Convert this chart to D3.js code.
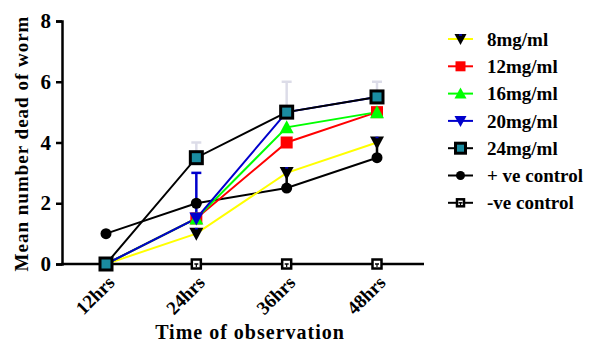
<!DOCTYPE html>
<html lang="en">
<head>
<meta charset="utf-8">
<title>Mean number dead of worm</title>
<script src="https://cdn.jsdelivr.net/npm/d3@7"></script>
<style>
  body { margin: 0; background: #fff; }
  text { font-family: "Liberation Serif", "Times New Roman", serif; font-weight: bold; }
</style>
</head>
<body>
<script>
// chart data
var times = ["12hrs", "24hrs", "36hrs", "48hrs"];
var yTicks = [0, 2, 4, 6, 8];

var dose8 = [0, 1, 3, 4];
var dose12 = [0, 1.5, 4, 5];
var dose16 = [0, 1.5, 4.5, 5];
var dose20 = [0, 1.5, 5, 5.5];
var dose24 = [0, 3.5, 5, 5.5];
var posControl = [1, 2, 2.5, 3.5];
var negControl = [0, 0, 0, 0];

// upper/lower ends of error bars (null = none)
var err8 = [null, null, 2.5, 3.5];
var err20 = [null, 3, null, null];
var err24 = [null, 4, 6, 6];

var names = ["8mg/ml", "12mg/ml", "16mg/ml", "20mg/ml", "24mg/ml", "+ ve control", "-ve control"];

var w = 595, h = 347;
var m = { left: 62, top: 21, right: 171, bottom: 83 };

var svg = d3.select("body").append("svg")
    .attr("width", w)
    .attr("height", h);

var x = d3.scalePoint().domain(times).range([106, 377]);
var y = d3.scaleLinear().domain([0, 8]).range([h - m.bottom, m.top]);

var series = [
    { name: names[0], values: dose8, line: "#ffff00", marker: "tri-down", fill: "#000", inner: "#0000cc", err: err8, errColor: "#000" },
    { name: names[1], values: dose12, line: "#ff0000", marker: "square", fill: "#ff0000" },
    { name: names[2], values: dose16, line: "#00ff00", marker: "tri-up", fill: "#00ff00" },
    { name: names[3], values: dose20, line: "#0000cc", marker: "tri-down", fill: "#0000cc", err: err20, errColor: "#0000cc" },
    { name: names[4], values: dose24, line: "#000", marker: "box", fill: "#1a8ca0", err: err24, errColor: "#dcdce8" },
    { name: names[5], values: posControl, line: "#000", marker: "circle", fill: "#000" },
    { name: names[6], values: negControl, line: "#000", marker: "open", fill: "#fff" }
];

// axes
var yAxis = svg.append("g")
    .attr("transform", "translate(" + m.left + ",0)")
    .call(d3.axisLeft(y).tickValues(yTicks).tickSize(6).tickPadding(5));
yAxis.select(".domain").attr("stroke-width", 2.5);
yAxis.selectAll(".tick line").attr("stroke-width", 2.5);
yAxis.selectAll("text").style("font-size", "21px").attr("fill", "#000");

svg.append("line")
    .attr("x1", m.left - 1).attr("x2", 424)
    .attr("y1", y(0)).attr("y2", y(0))
    .attr("stroke", "#000").attr("stroke-width", 2.5);

svg.selectAll(".xlab")
    .data(times)
    .enter().append("text")
    .attr("class", "xlab")
    .attr("transform", function(d) { return "translate(" + (x(d) + 5) + "," + (y(0) + 15) + ") rotate(-45)"; })
    .attr("text-anchor", "end")
    .attr("dy", "0.35em")
    .style("font-size", "19px")
    .text(function(d) { return d; });

svg.append("text")
    .attr("x", 250).attr("y", 339)
    .attr("text-anchor", "middle")
    .style("font-size", "20px")
    .style("letter-spacing", "1px")
    .text("Time of observation");

svg.append("text")
    .attr("transform", "translate(28," + (y(4) + 1) + ") rotate(-90)")
    .attr("text-anchor", "middle")
    .style("font-size", "19px")
    .style("letter-spacing", "1px")
    .text("Mean number dead of worm");

// marker drawing
function drawMarker(g, s, cx, cy, size) {
    var r = size / 2;
    if (s.marker === "square") {
        g.append("rect").attr("x", cx - r).attr("y", cy - r).attr("width", size).attr("height", size).attr("fill", s.fill);
    } else if (s.marker === "box") {
        g.append("rect").attr("x", cx - r).attr("y", cy - r).attr("width", size).attr("height", size)
            .attr("fill", s.fill).attr("stroke", "#000").attr("stroke-width", 3);
    } else if (s.marker === "open") {
        g.append("rect").attr("x", cx - r + 1.5).attr("y", cy - r + 1.5).attr("width", size - 3).attr("height", size - 3)
            .attr("fill", "#fff").attr("stroke", "#000").attr("stroke-width", 2.5);
        g.append("line").attr("x1", cx - 2).attr("x2", cx + 2).attr("y1", cy).attr("y2", cy).attr("stroke", "#000").attr("stroke-width", 1.5);
        g.append("line").attr("x1", cx).attr("x2", cx).attr("y1", cy).attr("y2", cy + 3).attr("stroke", "#000").attr("stroke-width", 1.2);
    } else if (s.marker === "circle") {
        g.append("circle").attr("cx", cx).attr("cy", cy).attr("r", r - 0.5).attr("fill", s.fill);
    } else if (s.marker === "tri-up") {
        g.append("path").attr("d", "M" + cx + "," + (cy - r - 1) + "L" + (cx + r + 1) + "," + (cy + r) + "L" + (cx - r - 1) + "," + (cy + r) + "Z").attr("fill", s.fill);
    } else if (s.marker === "tri-down") {
        g.append("path").attr("d", "M" + (cx - r - 1) + "," + (cy - r) + "L" + (cx + r + 1) + "," + (cy - r) + "L" + cx + "," + (cy + r + 1) + "Z").attr("fill", s.fill);
        if (s.inner) {
            g.append("line").attr("x1", cx - 1.5).attr("x2", cx + 1.5).attr("y1", cy - r + 1).attr("y2", cy - r + 1).attr("stroke", s.inner).attr("stroke-width", 1.5);
        }
    }
}

var line = d3.line()
    .x(function(d, i) { return x(times[i]); })
    .y(function(d) { return y(d); });

// error bars first so markers sit on top
series.forEach(function(s) {
    if (!s.err) return;
    s.err.forEach(function(e, i) {
        if (e === null) return;
        var cx = x(times[i]);
        svg.append("line").attr("x1", cx).attr("x2", cx).attr("y1", y(s.values[i])).attr("y2", y(e))
            .attr("stroke", s.errColor).attr("stroke-width", 2.5);
        svg.append("line").attr("x1", cx - 5).attr("x2", cx + 5).attr("y1", y(e)).attr("y2", y(e))
            .attr("stroke", s.errColor).attr("stroke-width", 2.5);
    });
});

// draw back to front like the original
var order = [6, 5, 0, 1, 2, 3, 4];
order.forEach(function(k) {
    var s = series[k];
    svg.append("path").datum(s.values)
        .attr("d", line)
        .attr("fill", "none")
        .attr("stroke", s.line)
        .attr("stroke-width", 2);
});
order.forEach(function(k) {
    var s = series[k];
    var g = svg.append("g");
    s.values.forEach(function(v, i) {
        drawMarker(g, s, x(times[i]), y(v), 12);
    });
});

// legend
var legend = svg.append("g");
series.forEach(function(s, i) {
    var ly = 39 + i * 27.3;
    legend.append("line").attr("x1", 448).attr("x2", 473).attr("y1", ly).attr("y2", ly)
        .attr("stroke", s.line).attr("stroke-width", 2);
    drawMarker(legend, s, 460.5, ly, 10);
    legend.append("text").attr("x", 487).attr("y", ly).attr("dy", "0.35em")
        .style("font-size", "19px").text(s.name);
});
</script>
</body>
</html>
